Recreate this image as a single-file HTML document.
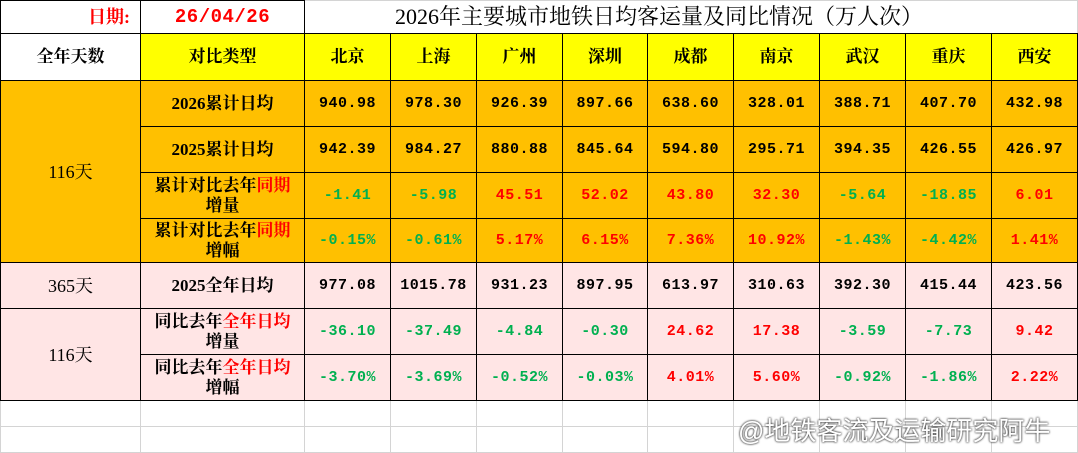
<!DOCTYPE html>
<html><head><meta charset="utf-8"><style>
body{margin:0;width:1078px;height:452px;overflow:hidden;background:#fff;font-family:"Liberation Serif","Noto Serif CJK SC",serif;}
table{border-collapse:collapse;table-layout:fixed;position:absolute;left:0;top:0;}
td{border:1.5px solid #000;text-align:center;padding:0;font-size:17px;font-weight:bold;line-height:20px;overflow:hidden;white-space:nowrap}
.y td{background:#ffff00;font-size:17px}
.o td{background:#ffc000}
.p td{background:#ffe5e5}
.g{color:#00b050}.r{color:#ff0000}
.n{font-family:"Liberation Mono","Noto Sans CJK SC",monospace;font-size:15px;letter-spacing:0.5px}
.e td{border:1px solid #d4d4d4;background:#fff}
.d{font-weight:normal;font-size:18px}
</style></head><body>
<table>
<colgroup><col style="width:140px"><col style="width:164px"><col style="width:86px"><col style="width:86px"><col style="width:86px"><col style="width:85px"><col style="width:86px"><col style="width:86px"><col style="width:86px"><col style="width:86px"><col style="width:86px"></colgroup>
<tr style="height:33px"><td class="r" style="text-align:right;padding-right:10px;font-size:18px">日期:</td><td class="r n" style="font-size:19px;font-weight:bold">26/04/26</td><td colspan="9" style="border:1px solid #d4d4d4;border-bottom:1.5px solid #000;font-weight:normal;font-size:22px;text-align:left;padding-left:90px">2026年主要城市地铁日均客运量及同比情况（万人次）</td></tr>
<tr class="y" style="height:47px"><td style="background:#fff">全年天数</td><td>对比类型</td><td>北京</td><td>上海</td><td>广州</td><td>深圳</td><td>成都</td><td>南京</td><td>武汉</td><td>重庆</td><td>西安</td></tr>
<tr class="o" style="height:46px"><td rowspan="4" class="d">116天</td><td>2026累计日均</td><td class="n">940.98</td><td class="n">978.30</td><td class="n">926.39</td><td class="n">897.66</td><td class="n">638.60</td><td class="n">328.01</td><td class="n">388.71</td><td class="n">407.70</td><td class="n">432.98</td></tr>
<tr class="o" style="height:46px"><td>2025累计日均</td><td class="n">942.39</td><td class="n">984.27</td><td class="n">880.88</td><td class="n">845.64</td><td class="n">594.80</td><td class="n">295.71</td><td class="n">394.35</td><td class="n">426.55</td><td class="n">426.97</td></tr>
<tr class="o" style="height:46px"><td>累计对比去年<span class="r">同期</span><br>增量</td><td class="n g">-1.41</td><td class="n g">-5.98</td><td class="n r">45.51</td><td class="n r">52.02</td><td class="n r">43.80</td><td class="n r">32.30</td><td class="n g">-5.64</td><td class="n g">-18.85</td><td class="n r">6.01</td></tr>
<tr class="o" style="height:44px"><td>累计对比去年<span class="r">同期</span><br>增幅</td><td class="n g">-0.15%</td><td class="n g">-0.61%</td><td class="n r">5.17%</td><td class="n r">6.15%</td><td class="n r">7.36%</td><td class="n r">10.92%</td><td class="n g">-1.43%</td><td class="n g">-4.42%</td><td class="n r">1.41%</td></tr>
<tr class="p" style="height:46px"><td class="d">365天</td><td>2025全年日均</td><td class="n">977.08</td><td class="n">1015.78</td><td class="n">931.23</td><td class="n">897.95</td><td class="n">613.97</td><td class="n">310.63</td><td class="n">392.30</td><td class="n">415.44</td><td class="n">423.56</td></tr>
<tr class="p" style="height:46px"><td rowspan="2" class="d">116天</td><td>同比去年<span class="r">全年日均</span><br>增量</td><td class="n g">-36.10</td><td class="n g">-37.49</td><td class="n g">-4.84</td><td class="n g">-0.30</td><td class="n r">24.62</td><td class="n r">17.38</td><td class="n g">-3.59</td><td class="n g">-7.73</td><td class="n r">9.42</td></tr>
<tr class="p" style="height:46px"><td>同比去年<span class="r">全年日均</span><br>增幅</td><td class="n g">-3.70%</td><td class="n g">-3.69%</td><td class="n g">-0.52%</td><td class="n g">-0.03%</td><td class="n r">4.01%</td><td class="n r">5.60%</td><td class="n g">-0.92%</td><td class="n g">-1.86%</td><td class="n r">2.22%</td></tr>
<tr class="e" style="height:26px"><td></td><td></td><td></td><td></td><td></td><td></td><td></td><td></td><td></td><td></td><td></td></tr>
<tr class="e" style="height:26px"><td></td><td></td><td></td><td></td><td></td><td></td><td></td><td></td><td></td><td></td><td></td></tr>
</table>
<div style="position:absolute;left:738px;top:411px;font-family:'Liberation Sans','Noto Sans CJK SC',sans-serif;font-size:26px;color:#fff;text-shadow:0 0 2px #444,0 0 2px #444">@地铁客流及运输研究阿牛</div>
</body></html>
